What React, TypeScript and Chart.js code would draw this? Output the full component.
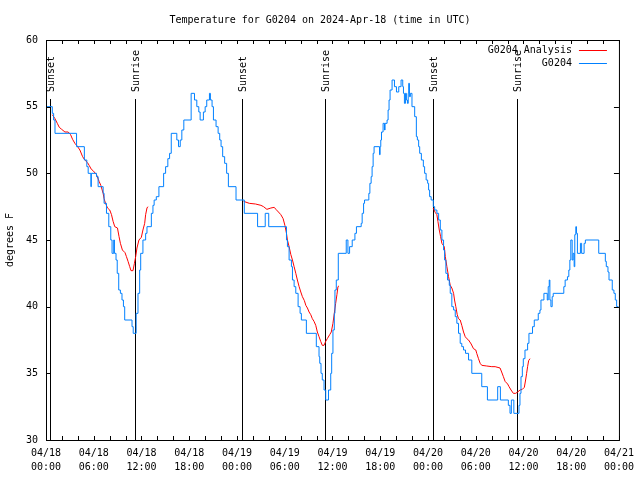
import React, { useEffect, useRef } from "react";
import { Chart, registerables } from "chart.js";
Chart.register(...registerables);

const TITLE = "Temperature for G0204 on 2024-Apr-18 (time in UTC)";
const Y_TITLE = "degrees F";
const DATE_LABELS = ["04/18", "04/18", "04/18", "04/18", "04/19", "04/19", "04/19", "04/19", "04/20", "04/20", "04/20", "04/20", "04/21"];
const TIME_LABELS = ["00:00", "06:00", "12:00", "18:00", "00:00", "06:00", "12:00", "18:00", "00:00", "06:00", "12:00", "18:00", "00:00"];
const SERIES_NAMES = ["G0204 Analysis", "G0204"];
const SERIES_COLORS = ["#ff0000", "#0080ff"];
const SUN_EVENTS = ["Sunset", "Sunrise", "Sunset", "Sunrise", "Sunset", "Sunrise"];
const SUN_HOURS = [0.54, 11.15, 24.6, 35.12, 48.62, 59.14];

// hours since 04/18 00:00 UTC, temperature (F)
const OBS_DAY1: [number, number][] = [[0.00,55.0],[0.79,54.5],[0.96,54.0],[1.13,53.0],[3.84,52.0],[4.82,51.0],[5.13,50.5],[5.30,50.0],[5.64,49.0],[5.70,50.0],[6.35,49.75],[6.55,49.0],[7.18,48.5],[7.30,47.75],[7.60,47.0],[7.89,46.0],[8.14,45.0],[8.30,44.0],[8.51,45.0],[8.60,44.0],[8.80,43.5],[8.95,42.5],[9.14,41.25],[9.35,41.0],[9.55,40.5],[9.73,40.0],[9.89,39.0],[10.81,38.5],[10.96,38.0],[11.33,39.5],[11.56,41.0],[11.77,42.75],[11.90,44.0],[12.18,45.0],[12.52,45.5],[12.69,46.0],[13.24,47.0],[13.44,47.6],[13.59,48.0],[13.86,48.25],[14.19,49.0],[14.78,50.0],[15.03,50.5],[15.31,51.1],[15.53,51.5],[15.74,53.0],[16.44,52.5],[16.65,52.0],[16.87,52.5],[17.07,53.25],[17.32,54.0],[18.24,56.0],[18.66,55.5],[18.95,55.0],[19.20,54.6],[19.37,54.0],[19.78,54.6],[20.00,55.0],[20.20,55.5],[20.54,56.0],[20.66,55.5],[20.87,55.0],[21.04,54.0],[21.37,53.5],[21.63,53.0],[21.83,52.5],[22.00,52.0],[22.20,51.25],[22.45,50.75],[22.70,50.0],[22.92,49.0],[23.88,48.0]];
const OBS_DAY2: [number, number][] = [[24.92,47.0],[26.59,46.0],[27.55,47.0],[27.99,46.0],[30.22,45.0],[30.34,44.5],[30.55,43.5],[30.84,43.0],[30.97,42.0],[31.18,41.5],[31.39,41.0],[31.68,40.0],[31.93,39.5],[32.09,39.0],[32.72,38.0],[33.97,37.0],[34.31,36.25],[34.40,35.75],[34.56,35.0],[34.72,34.5],[34.94,33.75],[35.15,33.0],[35.50,33.75],[35.78,35.0],[35.90,36.5],[36.06,38.25],[36.23,39.5],[36.31,41.25],[36.48,42.0],[36.73,44.0],[37.73,45.0],[37.94,44.0],[38.15,44.5],[38.48,45.0],[38.82,45.5],[39.01,46.0],[39.61,46.25],[39.73,47.0],[39.91,47.75],[40.03,48.0],[40.57,48.5],[40.70,49.25],[40.86,49.75],[40.98,50.5],[41.11,51.5],[41.23,52.0],[41.91,51.4],[41.99,52.0],[42.07,52.5],[42.16,53.1],[42.36,53.75],[42.54,53.25],[42.61,53.75],[42.86,54.0],[42.99,54.75],[43.11,55.5],[43.24,56.25],[43.49,57.0],[43.79,56.5],[44.04,56.1],[44.33,56.5],[44.62,57.0],[44.83,56.5],[44.92,56.0],[45.04,55.25],[45.17,56.0],[45.29,55.5],[45.42,55.25],[45.52,56.0],[45.58,56.75],[45.67,55.75],[45.79,56.0],[45.99,55.0],[46.33,54.25],[46.54,52.75],[46.67,52.5],[46.83,52.0],[46.96,51.5],[47.17,51.0],[47.42,50.5],[47.58,50.0],[47.77,49.5],[47.96,49.25]];
const OBS_DAY3: [number, number][] = [[48.08,48.75],[48.21,48.25],[48.40,48.0],[48.67,47.5],[48.84,47.25],[49.12,47.0],[49.34,46.5],[49.55,45.75],[49.75,45.0],[49.96,44.25],[50.09,43.5],[50.25,42.5],[50.46,42.0],[50.68,41.6],[50.80,41.0],[51.00,40.0],[51.22,39.75],[51.43,39.25],[51.63,38.75],[51.84,38.0],[52.05,37.25],[52.25,37.0],[52.47,36.75],[52.72,36.5],[53.10,36.0],[53.51,35.0],[54.76,34.0],[55.47,33.0],[56.76,34.0],[57.10,33.0],[58.10,32.6],[58.31,32.0],[58.48,33.0],[58.79,32.0],[59.44,32.6],[59.56,33.5],[59.69,34.75],[59.86,35.5],[59.98,36.1],[60.19,36.75],[60.52,37.25],[60.69,38.0],[61.14,38.5],[61.36,39.0],[61.86,39.5],[62.07,39.75],[62.20,40.5],[62.57,41.0],[62.99,40.5],[63.11,41.5],[63.24,42.0],[63.32,40.5],[63.45,40.0],[63.61,40.75],[63.74,41.0],[65.07,41.5],[65.24,42.0],[65.53,42.25],[65.70,42.75],[65.83,43.5],[65.95,45.0],[66.12,43.5],[66.24,44.0],[66.37,43.0],[66.45,45.4],[66.58,46.0],[66.66,45.5],[66.78,44.0],[67.16,44.75],[67.31,44.0],[67.62,44.75],[67.78,45.0],[69.46,44.0],[70.29,43.4],[70.41,43.0],[70.62,42.6],[70.75,42.0],[71.16,41.25],[71.37,41.0],[71.54,40.5],[71.71,40.0],[71.94,40.0]];

const ANALYSIS_SEG1: [number, number][] = [[0.79,54.4],[1.13,54.1],[1.42,53.75],[1.67,53.45],[1.97,53.3],[2.38,53.1],[2.79,53.1],[3.09,52.9],[3.34,52.55],[3.63,52.25],[3.92,52.05],[4.26,51.75],[4.60,51.25],[4.88,51.0],[5.22,50.8],[5.42,50.6],[5.70,50.3],[5.92,50.2],[6.35,49.9],[6.67,49.4],[6.89,49.1],[7.18,48.5],[7.30,48.1],[7.48,47.75],[7.73,47.4],[8.01,47.25],[8.23,46.9],[8.43,46.4],[8.64,46.0],[8.98,45.9],[9.18,45.25],[9.35,44.75],[9.60,44.25],[9.93,44.05],[10.11,43.75],[10.31,43.4],[10.52,43.0],[10.68,42.7],[10.93,42.7],[11.11,43.25],[11.27,43.75],[11.43,44.4],[11.68,45.0],[11.98,45.2],[12.18,45.75],[12.40,46.25],[12.52,46.9],[12.69,47.4],[12.81,47.5]];
const ANALYSIS_SEG2: [number, number][] = [[24.83,47.9],[25.55,47.75],[26.33,47.7],[27.01,47.6],[27.34,47.5],[27.76,47.3],[28.26,47.4],[28.68,47.45],[28.89,47.3],[29.21,47.1],[29.51,46.9],[29.80,46.6],[30.02,46.1],[30.22,45.5],[30.34,45.0],[30.55,44.5],[30.77,43.9],[30.97,43.5],[31.18,43.0],[31.39,42.5],[31.59,42.0],[31.81,41.5],[32.02,41.1],[32.22,40.75],[32.47,40.45],[32.65,40.1],[32.85,39.9],[33.06,39.6],[33.27,39.4],[33.47,39.1],[33.68,38.9],[33.90,38.6],[34.10,38.1],[34.31,37.75],[34.52,37.4],[34.72,37.1],[34.94,37.1],[35.15,37.4],[35.35,37.6],[35.65,37.9],[35.85,38.1],[36.06,38.75],[36.23,39.5],[36.40,40.25],[36.56,40.9],[36.69,41.5],[36.81,41.55]];
const ANALYSIS_SEG3: [number, number][] = [[48.65,47.4],[48.93,47.05],[49.12,46.9],[49.25,46.4],[49.42,45.75],[49.59,45.25],[49.75,44.75],[50.05,44.5],[50.18,43.75],[50.38,43.0],[50.59,42.25],[50.80,41.6],[51.00,41.4],[51.22,41.0],[51.34,40.5],[51.50,40.0],[51.68,39.4],[51.84,39.1],[52.05,39.0],[52.25,38.6],[52.47,38.1],[52.68,37.75],[52.88,37.6],[53.10,37.5],[53.43,37.2],[53.72,36.85],[54.01,36.75],[54.13,36.5],[54.35,36.1],[54.56,35.75],[54.76,35.6],[55.39,35.55],[56.02,35.5],[56.44,35.5],[57.06,35.4],[57.26,35.1],[57.48,34.75],[57.69,34.4],[58.01,34.2],[58.19,34.0],[58.44,33.75],[58.73,33.5],[59.02,33.5],[59.27,33.6],[59.57,33.75],[59.86,33.8],[60.11,33.95],[60.27,34.5],[60.40,35.0],[60.52,35.5],[60.65,35.95],[60.82,36.1]];

const FONT_FAMILY = "'DejaVu Sans Mono', monospace";
const FONT = "10px " + FONT_FAMILY;

const toXY = (arr: [number, number][]) => arr.map(([x, y]) => ({ x, y }));

const decorPlugin = {
  id: "decor",
  beforeDatasetsDraw(chart: any) {
    const { ctx, chartArea: a, scales } = chart;
    const xs = scales.x;
    ctx.save();
    ctx.strokeStyle = "#000";
    ctx.fillStyle = "#000";
    ctx.lineWidth = 1;
    ctx.font = FONT;
    SUN_HOURS.forEach((h, i) => {
      const px = Math.round(xs.getPixelForValue(h)) + 0.5;
      ctx.beginPath();
      ctx.moveTo(px, a.top + 59);
      ctx.lineTo(px, a.bottom);
      ctx.stroke();
      ctx.save();
      ctx.translate(px + 1, a.top + 52);
      ctx.rotate(-Math.PI / 2);
      ctx.textAlign = "left";
      ctx.textBaseline = "middle";
      ctx.fillText(SUN_EVENTS[i], 0, 0);
      ctx.restore();
    });
    ctx.restore();
  },
  afterDraw(chart: any) {
    const { ctx, chartArea: a, scales } = chart;
    const xs = scales.x;
    const ys = scales.y;
    ctx.save();
    ctx.strokeStyle = "#000";
    ctx.fillStyle = "#000";
    ctx.lineWidth = 1;
    // border
    ctx.strokeRect(a.left + 0.5, a.top + 0.5, a.right - a.left, a.bottom - a.top);
    // ticks (inward, mirrored)
    ctx.beginPath();
    xs.ticks.forEach((t: any) => {
      const px = Math.round(xs.getPixelForValue(t.value)) + 0.5;
      const len = 4;
      ctx.moveTo(px, a.bottom);
      ctx.lineTo(px, a.bottom - len);
      ctx.moveTo(px, a.top);
      ctx.lineTo(px, a.top + len);
    });
    ys.ticks.forEach((t: any) => {
      const py = Math.round(ys.getPixelForValue(t.value)) + 0.5;
      const len = 5;
      ctx.moveTo(a.left, py);
      ctx.lineTo(a.left + len, py);
      ctx.moveTo(a.right, py);
      ctx.lineTo(a.right - len, py);
    });
    ctx.stroke();
    ctx.font = FONT;
    // title
    ctx.textAlign = "center";
    ctx.textBaseline = "middle";
    ctx.fillText(TITLE, 320, 20);
    // y title
    ctx.save();
    ctx.translate(10, (a.top + a.bottom) / 2);
    ctx.rotate(-Math.PI / 2);
    ctx.fillText(Y_TITLE, 0, 0);
    ctx.restore();
    // legend
    ctx.textAlign = "right";
    SERIES_NAMES.forEach((name, i) => {
      const y = a.top + 10 + i * 13;
      ctx.fillStyle = "#000";
      ctx.fillText(name, a.right - 47, y);
      ctx.strokeStyle = SERIES_COLORS[i];
      ctx.beginPath();
      ctx.moveTo(a.right - 40, y + 0.5);
      ctx.lineTo(a.right - 12, y + 0.5);
      ctx.stroke();
    });
    ctx.restore();
  },
};

export default function App() {
  const ref = useRef<HTMLCanvasElement | null>(null);
  useEffect(() => {
    document.body.style.margin = "0";
    const canvas = ref.current;
    if (!canvas) return;
    const analysis = [
      ...toXY(ANALYSIS_SEG1),
      { x: 18, y: null },
      ...toXY(ANALYSIS_SEG2),
      { x: 42, y: null },
      ...toXY(ANALYSIS_SEG3),
    ];
    const obs = [...toXY(OBS_DAY1), ...toXY(OBS_DAY2), ...toXY(OBS_DAY3)];
    const chart = new Chart(canvas, {
      type: "line",
      data: {
        datasets: [
          {
            label: SERIES_NAMES[1],
            data: obs as any,
            borderColor: SERIES_COLORS[1],
            borderWidth: 1,
            pointRadius: 0,
            stepped: "before",
            fill: false,
          },
          {
            label: SERIES_NAMES[0],
            data: analysis as any,
            borderColor: SERIES_COLORS[0],
            borderWidth: 1,
            pointRadius: 0,
            spanGaps: false,
            fill: false,
          },
        ],
      },
      options: {
        responsive: false,
        animation: false,
        devicePixelRatio: 1,
        events: [],
        layout: { padding: { top: 40, right: 19, left: 0, bottom: 0 } },
        plugins: { legend: { display: false }, title: { display: false }, tooltip: { enabled: false } },
        scales: {
          x: {
            type: "linear",
            min: 0,
            max: 72,
            grid: { display: false, drawTicks: false },
            border: { display: false },
            afterFit: (s: any) => { s.height = 40; },
            ticks: {
              stepSize: 2,
              maxTicksLimit: 100,
              autoSkip: false,
              maxRotation: 0,
              minRotation: 0,
              padding: 6,
              color: "#000",
              font: { family: FONT_FAMILY, size: 10, lineHeight: 1.4 },
              callback: (v: any) => {
                const n = Number(v);
                if (n % 6 !== 0) return "";
                const i = n / 6;
                return [DATE_LABELS[i], TIME_LABELS[i]];
              },
            },
          },
          y: {
            min: 30,
            max: 60,
            grid: { display: false, drawTicks: false },
            border: { display: false },
            afterFit: (s: any) => { s.width = 46; },
            ticks: {
              stepSize: 5,
              padding: 8,
              color: "#000",
              font: { family: FONT_FAMILY, size: 10 },
            },
          },
        },
      },
      plugins: [decorPlugin],
    });
    return () => chart.destroy();
  }, []);
  return (
    <canvas
      ref={ref}
      width={640}
      height={480}
      style={{ display: "block", position: "fixed", left: 0, top: 0 }}
    />
  );
}
